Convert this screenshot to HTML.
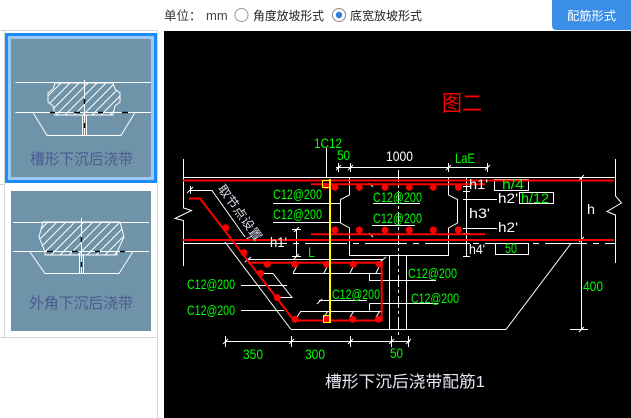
<!DOCTYPE html>
<html><head><meta charset="utf-8">
<style>
html,body{margin:0;padding:0;background:#fff;width:631px;height:418px;overflow:hidden}
svg{display:block}
.cj{font-family:"Liberation Sans","Noto Sans CJK SC",sans-serif}
.t{font-family:"Liberation Sans",sans-serif;font-size:14px}
</style></head><body>
<svg width="631" height="418" viewBox="0 0 631 418" xmlns="http://www.w3.org/2000/svg">
<defs>
<pattern id="h" patternUnits="userSpaceOnUse" width="9" height="9">
<path d="M0,9 L9,0 M-2,2 L2,-2 M7,11 L11,7" stroke="#fff" stroke-width="1"/>
</pattern>
</defs>
<rect width="631" height="418" fill="#fff"/>

<!-- top bar -->
<text x="164" y="20" class="cj" font-size="12.5" fill="#333">单位：</text>
<text x="206" y="20" font-family="Liberation Sans, sans-serif" font-size="13" fill="#444">mm</text>
<circle cx="241.5" cy="15" r="6.5" fill="#fff" stroke="#999" stroke-width="1"/>
<text x="253" y="20" class="cj" font-size="12" fill="#222" textLength="71" lengthAdjust="spacingAndGlyphs">角度放坡形式</text>
<circle cx="339" cy="15" r="6.5" fill="#fff" stroke="#888" stroke-width="1"/>
<circle cx="339" cy="15" r="3.2" fill="#2b7de0"/>
<text x="350" y="20" class="cj" font-size="12" fill="#222" textLength="72" lengthAdjust="spacingAndGlyphs">底宽放坡形式</text>
<rect x="552" y="-4" width="83" height="34" rx="4" fill="#3a8ee6"/>
<text x="567" y="20" class="cj" font-size="12" fill="#fff" textLength="49" lengthAdjust="spacingAndGlyphs">配筋形式</text>

<!-- left panel -->
<g stroke="#d6d6d6" stroke-width="1" fill="none">
<path d="M0 30.5H157.5M4.5 30V337M157.5 30V418M0 337.5H157.5M0 184.5H5"/>
</g>
<rect x="5" y="33" width="152" height="150" fill="#1a8cff"/>
<rect x="8" y="36" width="146" height="144" fill="#9ecbf5"/>
<rect x="11" y="39" width="140" height="138" fill="#6f93a8"/>
<g stroke="#fff" stroke-width="1" fill="none">
<path d="M15.5 82.5H151M15.5 112.5H151"/>
<polygon points="55,83 113,83 115,89 120,93 120,102 115,106 113,115 55,115 53,106 48,102 48,93 53,89" fill="url(#h)"/>
<path d="M84.5 80V135M82.5 115V135M86.5 115V135"/>
<path d="M33 112.5L47 135.5H121L135 112.5"/>
</g>
<g stroke="#000" stroke-width="1.5">
<path d="M50 112.5H55M74 112.5H80M98 112.5H103M122 112.5H128M84.5 99V104M84.5 123V128"/>
</g>
<text x="30" y="164" class="cj" font-size="15" fill="#4d5a92" textLength="103" lengthAdjust="spacingAndGlyphs">槽形下沉后浇带</text>

<rect x="11" y="191" width="140" height="140" fill="#6f93a8"/>
<g stroke="#fff" stroke-width="1" fill="none">
<path d="M13 222.5H149M13 251.5H149"/>
<polygon points="43,222 120,222 124,237 117,252 117,255 45,255 45,252 39,237" fill="url(#h)"/>
<path d="M81.5 218V274M79.5 254V274M83.5 254V274"/>
<path d="M30 252L45 273.5H119L132.7 252"/>
</g>
<g stroke="#000" stroke-width="1.5">
<path d="M47 251.5H53M72 251.5H78M95 251.5H100M120 251.5H125M81.5 237V242M81.5 262V267"/>
</g>
<text x="29" y="308" class="cj" font-size="15" fill="#4d5a92" textLength="104" lengthAdjust="spacingAndGlyphs">外角下沉后浇带</text>

<!-- canvas -->
<rect x="164" y="31" width="467" height="387" fill="#000"/>

<!-- white linework -->
<g stroke="#fff" stroke-width="1" fill="none">
<path d="M183 177.5H615.5"/>
<path d="M183.5 159V208L191.5 210.5L175 218.5L183.5 220.5V266"/>
<path d="M615.5 159V196L621.5 203L607 211.5L615.5 215V263"/>
<path d="M183 243.5H245"/>
<path d="M245 243.5H615" stroke-dasharray="42 6 6 6"/>
<path d="M349.5 177V195L340.5 199.5V223L349.5 228V255.5H448.5V228L457.5 223V199.5L448.5 195V177"/>
<path d="M398.5 170V338" stroke-dasharray="12 3 3 3"/>
<path d="M389.5 255.5V329.5M406.5 255.5V329.5"/>
<path d="M291 329.5H506"/>
<path d="M225 242L291 329.5"/>
<path d="M506 329.5L571 243.5"/>
<path d="M190.5 186V194M187 193L193 187M190 190.5H212L245 237M243 241L252 236"/>
<!-- top dimension -->
<path d="M336 167.5H488M338.5 163V172M350.5 163V172M448.5 163V172M487.5 163V172M336 170L341 165M348 170L353 165M446 170L451 165M485 170L490 165"/>
<path d="M326.5 148V177"/>
<!-- h1' dim left -->
<path d="M296.5 229V256M292 229.5H301M292 256.5H301M294 232L299 227M294 259L299 254"/>
<!-- L dim -->
<path d="M248 259.5H383M245 262L251 257M380 262L386 257"/>
<!-- h dim right -->
<path d="M581.5 177V329.5M577 177.5H587M570 329.5H588M579 180L584 175M579 332L584 327M579 242L584 237"/>
<!-- small dim right -->
<path d="M466.5 177V257M463 177.5H470M463 186.5H470M463 191.5H470M463 199.5H470M463 228.5H470M463 233.5H470M463 240.5H470M463 243.5H470M463 256.5H470"/>
<!-- leaders -->
<path d="M273 203.5H340M273 222.5H340M373 203.5H420M372 225.5H415M369 183L373 187M369 233L373 237"/>
<path d="M470 199.5H497M470 228.5H497"/>
<path d="M369.5 273V280.5H436M369.5 303.5V310.5M369.5 303.5H438"/>
<path d="M319 300.5H367M317 304L322 299"/>
<path d="M241 285.5H287M241 310.5H284"/>
<!-- stirrups / hooks -->
<path d="M293 273.5H383M293 273L297 266M324 273L327 267M350 273L353 267M376 273L379 267"/>
<path d="M263 273.5H273L292 297.5H280"/>
<path d="M300 311.5H383M297 317L301 311M324 317L328 311M350 317L354 311M376 317L380 311"/>
<!-- bottom dims -->
<path d="M225 341.5H410M225.5 336V347M291.5 336V347M350.5 336V347M391.5 336V347M408.5 336V347"/>
<path d="M223 344L228 339M289 344L294 339M348 344L353 339M389 344L394 339M406 344L411 339"/>
<!-- boxes -->
<rect x="494.5" y="179.5" width="34" height="11"/>
<rect x="519.5" y="192.5" width="34" height="11"/>
<rect x="495.5" y="243.5" width="33" height="11"/>
</g>

<!-- red rebar -->
<g stroke="#f00" stroke-width="2" fill="none">
<path d="M183 180.5H614"/>
<path d="M183 240H614"/>
<path d="M311 184.3H485"/>
<path d="M311 234.3H485"/>
<path d="M189 198.5H200L294 320.5H381.7V262.7H248"/>
</g>
<g fill="#f00">
<circle cx="326" cy="186" r="3.3"/>
<circle cx="335" cy="187.3" r="3.5"/>
<circle cx="359.3" cy="187.3" r="3.5"/>
<circle cx="385" cy="187.3" r="3.5"/>
<circle cx="409.3" cy="187.3" r="3.5"/>
<circle cx="433.3" cy="187.3" r="3.5"/>
<circle cx="458.3" cy="187.3" r="3.5"/>
<circle cx="335" cy="230" r="3.5"/>
<circle cx="359.3" cy="230" r="3.5"/>
<circle cx="385" cy="230" r="3.5"/>
<circle cx="409.3" cy="230" r="3.5"/>
<circle cx="433.3" cy="230" r="3.5"/>
<circle cx="458.3" cy="230" r="3.5"/>
<circle cx="225.7" cy="227.7" r="3.5"/>
<circle cx="244" cy="252.7" r="3.5"/>
<circle cx="260.7" cy="273.3" r="3.5"/>
<circle cx="277.3" cy="297.7" r="3.5"/>
<circle cx="295" cy="319.3" r="3.5"/>
<circle cx="267.3" cy="264.3" r="3.5"/>
<circle cx="295" cy="264.3" r="3.5"/>
<circle cx="326.7" cy="264.3" r="3.5"/>
<circle cx="353.3" cy="264.3" r="3.5"/>
<circle cx="379.3" cy="264.3" r="3.5"/>
<circle cx="326.7" cy="319.3" r="3.5"/>
<circle cx="352.7" cy="319.3" r="3.5"/>
<circle cx="378.3" cy="319.3" r="3.5"/>
</g>

<!-- yellow -->
<path d="M330 179V322" stroke="#ff0" stroke-width="2" fill="none"/>
<rect x="322.5" y="180.5" width="7" height="7" stroke="#ff0" stroke-width="1" fill="none"/>
<rect x="323.5" y="315.5" width="7" height="7" stroke="#ff0" stroke-width="1" fill="none"/>

<!-- green labels -->
<g class="t" fill="#00ff00">
<text x="314" y="148" textLength="28" lengthAdjust="spacingAndGlyphs">1C12</text>
<text x="337" y="160" textLength="13" lengthAdjust="spacingAndGlyphs">50</text>
<text x="455" y="163" textLength="20" lengthAdjust="spacingAndGlyphs">LaE</text>
<text x="273" y="199" textLength="49" lengthAdjust="spacingAndGlyphs">C12@200</text>
<text x="273" y="219" textLength="49" lengthAdjust="spacingAndGlyphs">C12@200</text>
<text x="373" y="202" textLength="49" lengthAdjust="spacingAndGlyphs">C12@200</text>
<text x="373" y="223" textLength="49" lengthAdjust="spacingAndGlyphs">C12@200</text>
<text x="308" y="257" textLength="7" lengthAdjust="spacingAndGlyphs">L</text>
<text x="408" y="278" textLength="49" lengthAdjust="spacingAndGlyphs">C12@200</text>
<text x="411" y="303" textLength="48" lengthAdjust="spacingAndGlyphs">C12@200</text>
<text x="332" y="299" textLength="48" lengthAdjust="spacingAndGlyphs">C12@200</text>
<text x="187" y="289" textLength="48" lengthAdjust="spacingAndGlyphs">C12@200</text>
<text x="187" y="315" textLength="48" lengthAdjust="spacingAndGlyphs">C12@200</text>
<text x="243" y="359" textLength="20" lengthAdjust="spacingAndGlyphs">350</text>
<text x="305" y="359" textLength="20" lengthAdjust="spacingAndGlyphs">300</text>
<text x="390" y="358" textLength="13" lengthAdjust="spacingAndGlyphs">50</text>
<text x="583" y="291" textLength="20" lengthAdjust="spacingAndGlyphs">400</text>
<text x="502" y="189" textLength="22" lengthAdjust="spacingAndGlyphs">h/4</text>
<text x="521" y="203" textLength="28" lengthAdjust="spacingAndGlyphs">h/12</text>
<text x="505" y="253" textLength="12" lengthAdjust="spacingAndGlyphs">50</text>
</g>

<!-- white labels -->
<g class="t" fill="#fff">
<text x="386" y="161" textLength="27" lengthAdjust="spacingAndGlyphs">1000</text>
<text x="270" y="247" textLength="17" lengthAdjust="spacingAndGlyphs">h1'</text>
<text x="587" y="214" textLength="8" lengthAdjust="spacingAndGlyphs">h</text>
<text x="469" y="189" textLength="19" lengthAdjust="spacingAndGlyphs">h1'</text>
<text x="498" y="203" textLength="20" lengthAdjust="spacingAndGlyphs">h2'</text>
<text x="469" y="218" textLength="21" lengthAdjust="spacingAndGlyphs">h3'</text>
<text x="498" y="232" textLength="20" lengthAdjust="spacingAndGlyphs">h2'</text>
<text x="469" y="254" textLength="16" lengthAdjust="spacingAndGlyphs">h4'</text>
</g>

<text class="cj" font-size="12" fill="#dde" transform="translate(217.2,188.5) rotate(54)" x="0" y="0" textLength="66" lengthAdjust="spacingAndGlyphs">取节点设置</text>

<text x="442" y="111" class="cj" font-size="22" fill="#f00" textLength="40" lengthAdjust="spacingAndGlyphs">图二</text>
<text x="325" y="387" class="cj" font-size="16" fill="#e8e8f8" textLength="160" lengthAdjust="spacingAndGlyphs">槽形下沉后浇带配筋1</text>
</svg>
</body></html>
